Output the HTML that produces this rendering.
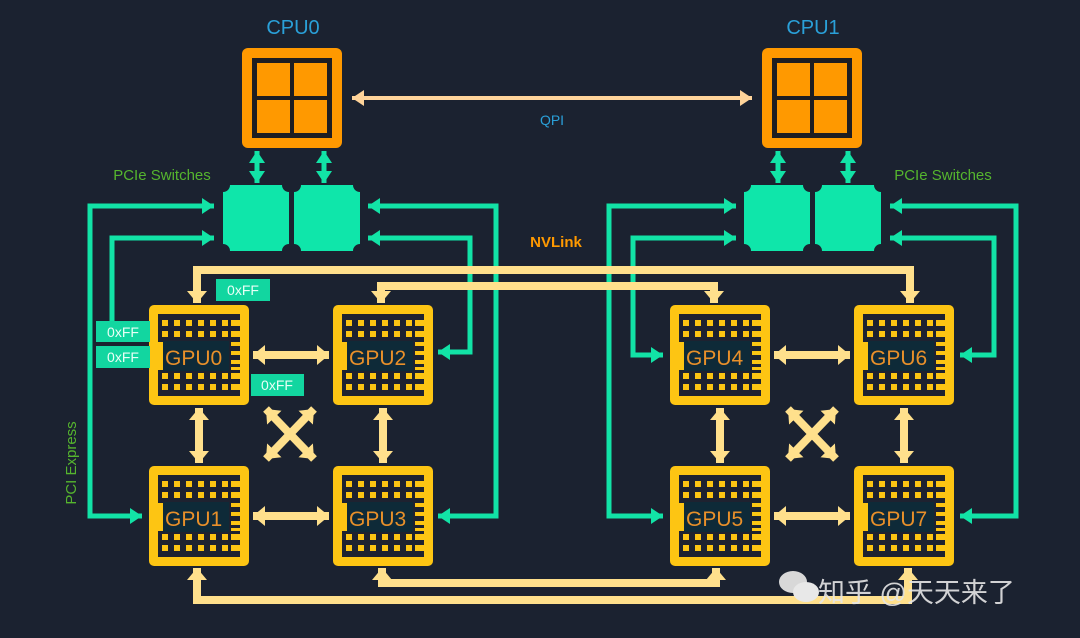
<!DOCTYPE html>
<html><head><meta charset="utf-8"><style>
html,body{margin:0;padding:0;background:#1b2230;}
svg{display:block}
text{font-family:"Liberation Sans","Noto Sans CJK SC",sans-serif}
</style></head><body>
<svg width="1080" height="638" viewBox="0 0 1080 638" xmlns="http://www.w3.org/2000/svg">
<defs>
<marker id="y" markerUnits="userSpaceOnUse" markerWidth="22" markerHeight="22" refX="12" refY="10" orient="auto-start-reverse"><path d="M0,0 L12,10 L0,20 Z" fill="#ffe08c"/></marker>
<marker id="g" markerUnits="userSpaceOnUse" markerWidth="20" markerHeight="20" refX="12" refY="9" orient="auto-start-reverse"><path d="M0,1 L12,9 L0,17 Z" fill="#12e3a6"/></marker>
<marker id="p" markerUnits="userSpaceOnUse" markerWidth="20" markerHeight="20" refX="12" refY="8" orient="auto-start-reverse"><path d="M0,0 L12,8 L0,16 Z" fill="#ffd49a"/></marker>
<g id="gpu">
<rect x="0" y="0" width="100" height="100" rx="5" fill="#fdc513"/>
<rect x="9" y="9" width="82" height="82" fill="#1e2230"/>
<g fill="#fdc513">
<rect x="13" y="15" width="6" height="6"/><rect x="25" y="15" width="6" height="6"/><rect x="37" y="15" width="6" height="6"/><rect x="49" y="15" width="6" height="6"/><rect x="61" y="15" width="6" height="6"/><rect x="73" y="15" width="6" height="6"/><rect x="82" y="15" width="9" height="6"/>
<rect x="13" y="26" width="6" height="6"/><rect x="25" y="26" width="6" height="6"/><rect x="37" y="26" width="6" height="6"/><rect x="49" y="26" width="6" height="6"/><rect x="61" y="26" width="6" height="6"/><rect x="73" y="26" width="6" height="6"/><rect x="82" y="26" width="9" height="6"/>
<rect x="13" y="68" width="6" height="6"/><rect x="25" y="68" width="6" height="6"/><rect x="37" y="68" width="6" height="6"/><rect x="49" y="68" width="6" height="6"/><rect x="61" y="68" width="6" height="6"/><rect x="73" y="68" width="6" height="6"/><rect x="82" y="68" width="9" height="6"/>
<rect x="13" y="79" width="6" height="6"/><rect x="25" y="79" width="6" height="6"/><rect x="37" y="79" width="6" height="6"/><rect x="49" y="79" width="6" height="6"/><rect x="61" y="79" width="6" height="6"/><rect x="73" y="79" width="6" height="6"/><rect x="82" y="79" width="9" height="6"/>
<rect x="82" y="37" width="9" height="4"/><rect x="82" y="46" width="9" height="4"/><rect x="82" y="55" width="9" height="4"/><rect x="82" y="62" width="9" height="3"/>
<rect x="9" y="37" width="5" height="28"/>
</g>
<rect x="14" y="36" width="66" height="30" fill="#0e2a38"/>
</g>
<g id="cpu">
<rect x="0" y="0" width="100" height="100" rx="6" fill="#ff9900"/>
<rect x="10" y="10" width="80" height="80" fill="#1e1e22"/>
<g fill="#ff9900"><rect x="15" y="15" width="33" height="33"/><rect x="52" y="15" width="33" height="33"/><rect x="15" y="52" width="33" height="33"/><rect x="52" y="52" width="33" height="33"/></g>
</g>
<path id="sw" d="M7,0 H59 A7,7 0 0 0 66,7 V59 A7,7 0 0 0 59,66 H7 A7,7 0 0 0 0,59 V7 A7,7 0 0 0 7,0 Z" fill="#0fe6aa"/>
</defs>

<text x="293" y="34" font-size="20" fill="#2aa0d8" text-anchor="middle">CPU0</text>
<text x="813" y="34" font-size="20" fill="#2aa0d8" text-anchor="middle">CPU1</text>
<use href="#cpu" x="242" y="48"/>
<use href="#cpu" x="762" y="48"/>
<line x1="352" y1="98" x2="752" y2="98" stroke="#ffd49a" stroke-width="4" marker-start="url(#p)" marker-end="url(#p)"/>
<text x="552" y="125" font-size="14" fill="#2aa0d8" text-anchor="middle">QPI</text>

<use href="#sw" x="223" y="185"/><use href="#sw" x="294" y="185"/>
<use href="#sw" x="744" y="185"/><use href="#sw" x="815" y="185"/>
<g stroke="#12e3a6" stroke-width="5" fill="none">
<line x1="257" y1="151" x2="257" y2="183" marker-start="url(#g)" marker-end="url(#g)"/>
<line x1="324" y1="151" x2="324" y2="183" marker-start="url(#g)" marker-end="url(#g)"/>
<line x1="778" y1="151" x2="778" y2="183" marker-start="url(#g)" marker-end="url(#g)"/>
<line x1="848" y1="151" x2="848" y2="183" marker-start="url(#g)" marker-end="url(#g)"/>
<polyline points="142,516 90,516 90,206 214,206" marker-start="url(#g)" marker-end="url(#g)"/>
<polyline points="112,324 112,238 214,238" marker-end="url(#g)"/>
<polyline points="438,516 496,516 496,206 368,206" marker-start="url(#g)" marker-end="url(#g)"/>
<polyline points="438,352 470,352 470,238 368,238" marker-start="url(#g)" marker-end="url(#g)"/>
<polyline points="663,516 609,516 609,206 736,206" marker-start="url(#g)" marker-end="url(#g)"/>
<polyline points="663,355 633,355 633,238 736,238" marker-start="url(#g)" marker-end="url(#g)"/>
<polyline points="960,516 1016,516 1016,206 890,206" marker-start="url(#g)" marker-end="url(#g)"/>
<polyline points="960,355 994,355 994,238 890,238" marker-start="url(#g)" marker-end="url(#g)"/>
</g>

<text x="162" y="180" font-size="15" fill="#55b52e" text-anchor="middle">PCIe Switches</text>
<text x="943" y="180" font-size="15" fill="#55b52e" text-anchor="middle">PCIe Switches</text>
<text x="556" y="247" font-size="15" font-weight="bold" fill="#ff9900" text-anchor="middle">NVLink</text>
<text transform="translate(76,463) rotate(-90)" font-size="15" fill="#55b52e" text-anchor="middle">PCI Express</text>

<g stroke="#ffe08c" stroke-width="8" fill="none">
<polyline points="197,303 197,270 910,270 910,303" marker-start="url(#y)" marker-end="url(#y)"/>
<polyline points="381,303 381,286 714,286 714,303" marker-start="url(#y)" marker-end="url(#y)"/>
<polyline points="197,568 197,600 908,600 908,568" marker-start="url(#y)" marker-end="url(#y)"/>
<polyline points="382,568 382,583 716,583 716,568" marker-start="url(#y)" marker-end="url(#y)"/>
<line x1="253" y1="355" x2="329" y2="355" marker-start="url(#y)" marker-end="url(#y)"/>
<line x1="253" y1="516" x2="329" y2="516" marker-start="url(#y)" marker-end="url(#y)"/>
<line x1="774" y1="355" x2="850" y2="355" marker-start="url(#y)" marker-end="url(#y)"/>
<line x1="774" y1="516" x2="850" y2="516" marker-start="url(#y)" marker-end="url(#y)"/>
<line x1="199" y1="408" x2="199" y2="463" marker-start="url(#y)" marker-end="url(#y)"/>
<line x1="383" y1="408" x2="383" y2="463" marker-start="url(#y)" marker-end="url(#y)"/>
<line x1="720" y1="408" x2="720" y2="463" marker-start="url(#y)" marker-end="url(#y)"/>
<line x1="904" y1="408" x2="904" y2="463" marker-start="url(#y)" marker-end="url(#y)"/>
<line x1="266" y1="409" x2="314" y2="459" marker-start="url(#y)" marker-end="url(#y)"/>
<line x1="314" y1="409" x2="266" y2="459" marker-start="url(#y)" marker-end="url(#y)"/>
<line x1="788" y1="409" x2="836" y2="459" marker-start="url(#y)" marker-end="url(#y)"/>
<line x1="836" y1="409" x2="788" y2="459" marker-start="url(#y)" marker-end="url(#y)"/>
</g>

<use href="#gpu" x="149" y="305"/><use href="#gpu" x="333" y="305"/>
<use href="#gpu" x="149" y="466"/><use href="#gpu" x="333" y="466"/>
<use href="#gpu" x="670" y="305"/><use href="#gpu" x="854" y="305"/>
<use href="#gpu" x="670" y="466"/><use href="#gpu" x="854" y="466"/>
<g font-size="21" fill="#e8902a">
<text x="165" y="365">GPU0</text><text x="349" y="365">GPU2</text>
<text x="165" y="526">GPU1</text><text x="349" y="526">GPU3</text>
<text x="686" y="365">GPU4</text><text x="870" y="365">GPU6</text>
<text x="686" y="526">GPU5</text><text x="870" y="526">GPU7</text>
</g>

<g fill="#12d6a0">
<rect x="216" y="279" width="54" height="22"/>
<rect x="96" y="321" width="54" height="21"/>
<rect x="96" y="346" width="54" height="22"/>
<rect x="251" y="374" width="53" height="22"/>
</g>
<g font-size="14" fill="#e8fff6" text-anchor="middle">
<text x="243" y="295">0xFF</text>
<text x="123" y="337">0xFF</text>
<text x="123" y="362">0xFF</text>
<text x="277" y="390">0xFF</text>
</g>

<ellipse cx="793" cy="582" rx="14" ry="11" fill="#d8d8d8"/>
<ellipse cx="806" cy="592" rx="13" ry="10" fill="#e8e8e8"/>
<text x="818" y="602" font-size="27" fill="#e6e6e6" opacity="0.9">知乎 @天天来了</text>
</svg>
</body></html>
